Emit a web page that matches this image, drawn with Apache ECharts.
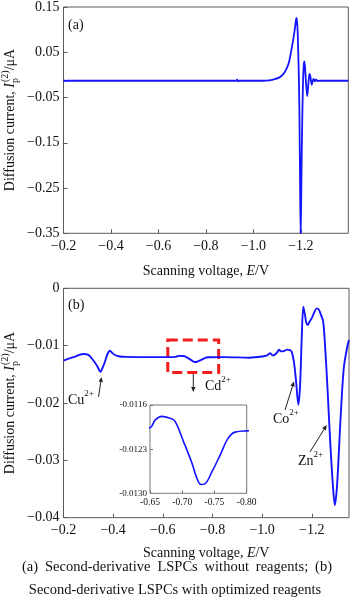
<!DOCTYPE html>
<html>
<head>
<meta charset="utf-8">
<script src="https://cdn.jsdelivr.net/npm/echarts@6/dist/echarts.min.js"></script>
<style>
  html, body { margin: 0; padding: 0; background: #fff; }
  #chart { width: 350px; height: 604px; }
</style>
</head>
<body>
<div id="chart"></div>
<script>
// (a) second-derivative LSPC without reagents
const topVoltage = [-0.2, -0.205, -0.215, -0.5, -0.9, -0.928, -0.932, -0.936, -0.94, -1.04, -1.068, -1.09, -1.11, -1.125,
  -1.138, -1.15, -1.159, -1.167, -1.173, -1.178, -1.181, -1.184, -1.187, -1.191, -1.194, -1.197, -1.199, -1.201,
  -1.203, -1.206, -1.209, -1.212, -1.215, -1.218, -1.222, -1.227, -1.231, -1.235, -1.238, -1.242, -1.246, -1.25,
  -1.254, -1.259, -1.264, -1.27, -1.28, -1.4];
const topCurrent = [-0.011, -0.0135, -0.013, -0.013, -0.013, -0.013, -0.0105, -0.0145, -0.013, -0.013, -0.012, -0.0095, -0.0055, 0.001,
  0.0114, 0.028, 0.0514, 0.075, 0.095, 0.115, 0.126, 0.118, 0.09, 0.01, -0.08, -0.25, -0.35, -0.30,
  -0.204, -0.10, -0.02, 0.02, 0.030, 0.015, -0.02, -0.047, -0.025, -0.002, 0.002, -0.01, -0.022, -0.013,
  -0.009, -0.0145, -0.010, -0.0135, -0.013, -0.013];

// (b) second-derivative LSPC with optimized reagents
const bottomVoltage = [-0.2, -0.24, -0.279, -0.30, -0.319, -0.335, -0.349, -0.358, -0.367, -0.377, -0.387, -0.397, -0.407,
  -0.427, -0.447, -0.55, -0.62, -0.65, -0.658, -0.668, -0.681, -0.689, -0.702, -0.715, -0.722, -0.729, -0.735, -0.746,
  -0.759, -0.771, -0.782, -0.80, -0.85, -0.95, -1.0, -1.02, -1.033, -1.042, -1.05, -1.06, -1.068, -1.076, -1.09, -1.10,
  -1.112, -1.119, -1.128, -1.137, -1.146, -1.153, -1.160, -1.166, -1.172, -1.178, -1.184, -1.19, -1.2, -1.21, -1.22,
  -1.228, -1.236, -1.246, -1.255, -1.264, -1.275, -1.286, -1.293, -1.302, -1.316, -1.329, -1.343, -1.35];
const bottomCurrent = [-0.0126, -0.0120, -0.01146, -0.0116, -0.0125, -0.0135, -0.01454, -0.0138, -0.0128, -0.0115, -0.01088, -0.0113, -0.01163,
  -0.0119, -0.01195, -0.0120, -0.0120, -0.01196, -0.01184, -0.01178, -0.01181, -0.01186, -0.01218, -0.01252, -0.01274, -0.01286, -0.01285, -0.01266,
  -0.01239, -0.01213, -0.01203, -0.01201, -0.0120, -0.0121, -0.0119, -0.0117, -0.0113, -0.0117, -0.0116, -0.0112, -0.0107, -0.0110, -0.0109, -0.0107,
  -0.0108, -0.01105, -0.0128, -0.0163, -0.0203, -0.0169, -0.0081, -0.0032, -0.0045, -0.0060, -0.0064, -0.0059, -0.0052, -0.0042, -0.0035,
  -0.0037, -0.0045, -0.0058, -0.011, -0.018, -0.0273, -0.0349, -0.0378, -0.0343, -0.0227, -0.0139, -0.0102, -0.009];

// axis ranges, tick steps and labelled tick values
const topXRange = [-1.4, -0.2], topXStep = 0.2;
const topYRange = [-0.35, 0.15], topYStep = 0.1;
const bottomXRange = [-1.35, -0.2];
const voltageTicks = [-1.2, -1.0, -0.8, -0.6, -0.4, -0.2];
const bottomYRange = [-0.04, 0], bottomYStep = 0.01;
const insetXRange = [-0.80, -0.65], insetXStep = 0.05;
const insetYRange = [-0.0130, -0.0116], insetYStep = 0.0007;

// dashed region around the Cd2+ peak
const cdBox = { volt: [-0.62, -0.825], curr: [-0.009, -0.0147] };

const SERIF = "'Liberation Serif', 'Times New Roman', serif";
const INK = '#111';
const FRAME = '#5a5a5a';
const BLUE = '#1414ff';

const pair = (xs, ys) => xs.map((x, i) => [x, ys[i]]);
const minus = s => s.replace('-', '\u2212');
const fmt = d => v => (Math.abs(v) < 1e-9 ? '0' : minus(v.toFixed(d)));

const measureCtx = document.createElement('canvas').getContext('2d');
function textWidth(str, font) { measureCtx.font = font; return measureCtx.measureText(str).width; }

function mainX(gridIndex, range, nameGap, step) {
  const axis = {
    type: 'value', gridIndex, min: range[0], max: range[1], inverse: true,
    axisLine: { show: false, onZero: false },
    axisTick: { inside: true, length: 4, lineStyle: { color: FRAME } },
    splitLine: { show: false },
    axisLabel: { formatter: fmt(1), fontFamily: SERIF, fontSize: 14, color: INK, margin: 6 },
    name: 'Scanning voltage, {i|E}/V', nameLocation: 'middle', nameGap,
    nameTextStyle: { fontFamily: SERIF, fontSize: 14, color: INK,
      rich: { i: { fontFamily: SERIF, fontSize: 14, fontStyle: 'italic', color: INK } } }
  };
  if (step) {
    axis.interval = step;
    axis.axisLabel.showMinLabel = false;
  } else {
    axis.axisTick.customValues = voltageTicks;
    axis.axisLabel.customValues = voltageTicks;
  }
  return axis;
}
function mainY(gridIndex, range, step, digits) {
  return {
    type: 'value', gridIndex, min: range[0], max: range[1], interval: step,
    axisLine: { show: false, onZero: false },
    axisTick: { inside: true, length: 4, lineStyle: { color: FRAME } },
    splitLine: { show: false },
    axisLabel: { formatter: fmt(digits), fontFamily: SERIF, fontSize: 14, color: INK, margin: 4 }
  };
}

// rotated y-axis title: Diffusion current, I_p^(2)/μA
function yTitle(cx, cy) {
  const big = '14px ' + SERIF, ital = 'italic 14px ' + SERIF, small = '10px ' + SERIF;
  const head = 'Diffusion current, ';
  const w1 = textWidth(head, big), w2 = textWidth('I', ital) + 1;
  const w3 = Math.max(textWidth('p', small), textWidth('(2)', small));
  const w4 = textWidth('/\u03bcA', big);
  let x0 = -(w1 + w2 + w3 + w4) / 2;
  const children = [];
  const add = (t, f, x, y) => children.push({ type: 'text', x, y,
    style: { text: t, font: f, fill: INK, align: 'left', verticalAlign: 'middle' } });
  add(head, big, x0, 0); x0 += w1;
  add('I', ital, x0, 0); x0 += w2;
  add('p', small, x0 - 1, 5);
  add('(2)', small, x0, -5); x0 += w3;
  add('/\u03bcA', big, x0, 0);
  return { type: 'group', x: cx, y: cy, rotation: Math.PI / 2, children };
}

// ion label with superscript charge
function ionLabel(x, y, base, charge) {
  const f = '14px ' + SERIF, s = '9px ' + SERIF;
  const w = textWidth(base, f);
  return [
    { type: 'text', x, y, style: { text: base, font: f, fill: INK, align: 'left', verticalAlign: 'middle' } },
    { type: 'text', x: x + w, y: y - 6, style: { text: charge, font: s, fill: INK, align: 'left', verticalAlign: 'middle' } }
  ];
}

function arrow(x1, y1, x2, y2) {
  const a = Math.atan2(y2 - y1, x2 - x1), L = 5, W = 2.2;
  const bx = x2 - L * Math.cos(a), by = y2 - L * Math.sin(a);
  const nx = -Math.sin(a) * W, ny = Math.cos(a) * W;
  return [
    { type: 'line', shape: { x1, y1, x2: bx, y2: by }, style: { stroke: '#222', lineWidth: 1 } },
    { type: 'polygon', shape: { points: [[x2, y2], [bx + nx, by + ny], [bx - nx, by - ny]] }, style: { fill: '#222' } }
  ];
}

function caption() {
  const f = '14.5px ' + SERIF;
  const words = ['(a)', 'Second-derivative', 'LSPCs', 'without', 'reagents;', '(b)'];
  const left = 22, right = 332;
  const widths = words.map(w => textWidth(w, f));
  const gap = (right - left - widths.reduce((a, b) => a + b, 0)) / (words.length - 1);
  const out = [];
  let x = left;
  words.forEach((w, i) => {
    out.push({ type: 'text', x, y: 567, style: { text: w, font: f, fill: INK, align: 'left', verticalAlign: 'middle' } });
    x += widths[i] + gap;
  });
  out.push({ type: 'text', x: 175, y: 590, style: { text: 'Second-derivative LSPCs with optimized reagents',
    font: f, fill: INK, align: 'center', verticalAlign: 'middle' } });
  return out;
}

const chart = echarts.init(document.getElementById('chart'), null, { renderer: 'canvas' });

const option = {
  animation: false,
  backgroundColor: '#fff',
  grid: [
    { left: 63.5, right: 1.7, top: 5, height: 228.3, show: true, borderColor: FRAME, borderWidth: 1, backgroundColor: 'transparent' },
    { left: 63.5, right: 1, top: 288.3, height: 229.4, show: true, borderColor: FRAME, borderWidth: 1, backgroundColor: 'transparent' },
    { left: 150, width: 96.7, top: 405, height: 88.3, show: true, borderColor: '#777', borderWidth: 1, backgroundColor: '#fff', z: 3 }
  ],
  xAxis: [
    mainX(0, topXRange, 31, topXStep),
    mainX(1, bottomXRange, 29),
    {
      type: 'value', gridIndex: 2, min: insetXRange[0], max: insetXRange[1], interval: insetXStep, inverse: true,
      axisLine: { show: false, onZero: false }, splitLine: { show: false }, z: 4,
      axisTick: { inside: true, length: 3, lineStyle: { color: '#777' } },
      axisLabel: { formatter: v => v.toFixed(2), fontFamily: SERIF, fontSize: 9.5, color: INK, margin: 4 }
    }
  ],
  yAxis: [
    mainY(0, topYRange, topYStep, 2),
    mainY(1, bottomYRange, bottomYStep, 2),
    {
      type: 'value', gridIndex: 2, min: insetYRange[0], max: insetYRange[1], interval: insetYStep,
      axisLine: { show: false, onZero: false }, splitLine: { show: false }, z: 4,
      axisTick: { inside: true, length: 3, lineStyle: { color: '#777' } },
      axisLabel: { formatter: v => v.toFixed(4), fontFamily: SERIF, fontSize: 9, color: INK, margin: 3 }
    }
  ],
  series: [
    {
      type: 'line', xAxisIndex: 0, yAxisIndex: 0, data: pair(topVoltage, topCurrent),
      showSymbol: false, smooth: 0.2, lineStyle: { color: BLUE, width: 1.8 }
    },
    {
      type: 'line', xAxisIndex: 1, yAxisIndex: 1, data: pair(bottomVoltage, bottomCurrent),
      showSymbol: false, smooth: 0.3, lineStyle: { color: BLUE, width: 1.9 },
      markArea: {
        silent: true,
        itemStyle: { color: 'rgba(0,0,0,0)', borderColor: '#f41d1d', borderWidth: 3, borderType: [10, 5] },
        data: [[{ xAxis: cdBox.volt[0], yAxis: cdBox.curr[0] }, { xAxis: cdBox.volt[1], yAxis: cdBox.curr[1] }]]
      }
    },
    {
      type: 'line', xAxisIndex: 2, yAxisIndex: 2, data: pair(bottomVoltage, bottomCurrent), z: 5,
      showSymbol: false, smooth: 0.4, clip: true, lineStyle: { color: BLUE, width: 1.6 }
    }
  ],
  graphic: [
    { type: 'text', x: 68, y: 25, style: { text: '(a)', font: '14px ' + SERIF, fill: INK, verticalAlign: 'middle' } },
    { type: 'text', x: 68, y: 305, style: { text: '(b)', font: '14px ' + SERIF, fill: INK, verticalAlign: 'middle' } },
    yTitle(10, 120),
    yTitle(10, 403),
    ...ionLabel(68, 400, 'Cu', '2+'),
    ...arrow(98.5, 397, 101.5, 377),
    ...ionLabel(205, 386, 'Cd', '2+'),
    ...arrow(193.3, 373, 193.3, 392),
    ...ionLabel(273, 419, 'Co', '2+'),
    ...arrow(285, 410, 294, 381.5),
    ...ionLabel(298, 461, 'Zn', '2+'),
    ...arrow(310, 452, 326.7, 425),
    ...caption()
  ]
};

chart.setOption(option);
</script>
</body>
</html>
